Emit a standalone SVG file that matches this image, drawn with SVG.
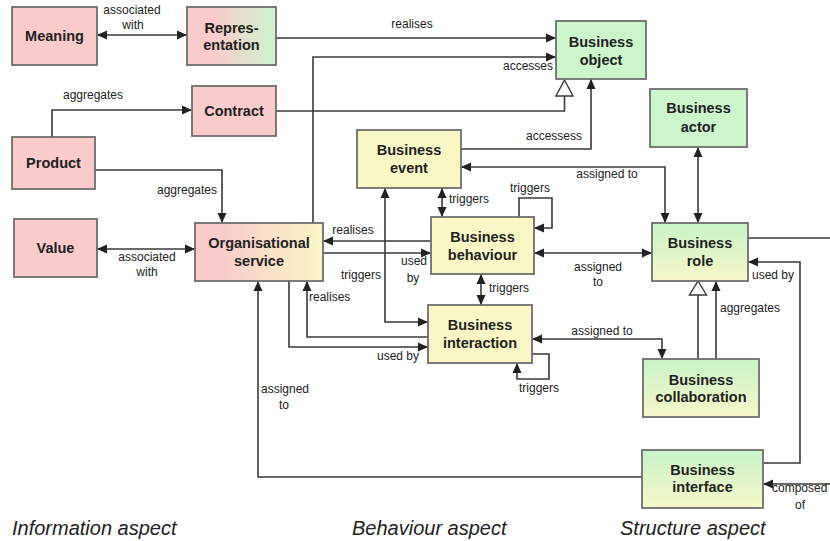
<svg xmlns="http://www.w3.org/2000/svg" width="830" height="541" viewBox="0 0 830 541">
<style>
.n rect{stroke:#6e6e6e;stroke-width:1.8}
.pink{fill:#f9cbcb}
.green{fill:#ccf5cc}
.yellow{fill:#f9f7c6}
.t{font-family:"Liberation Sans",Arial,sans-serif;font-weight:bold;font-size:14.5px;fill:#222;text-anchor:middle}
.l{font-family:"Liberation Sans",Arial,sans-serif;font-size:12px;fill:#222}
.m{text-anchor:middle}
.a{font-family:"Liberation Sans",Arial,sans-serif;font-style:italic;font-size:20px;fill:#222}
#connectors path{fill:none;stroke:#3a3a3a;stroke-width:1.6}
#connectors polygon{fill:#fff;stroke:#3a3a3a;stroke-width:1.4}
.e{marker-end:url(#arr)}
.b{marker-end:url(#arr);marker-start:url(#arr)}
</style>
<defs>
<marker id="arr" markerUnits="userSpaceOnUse" markerWidth="11" markerHeight="10" refX="10" refY="5" orient="auto-start-reverse" viewBox="0 0 11 10">
<path d="M0,0.5 L10,5 L0,9.5 z" fill="#222"/>
</marker>
<linearGradient id="gPG" x1="0" y1="0" x2="1" y2="0">
<stop offset="0.3" stop-color="#f9cbcb"/><stop offset="1" stop-color="#ccf5cc"/>
</linearGradient>
<linearGradient id="gPY" x1="0" y1="0" x2="1" y2="0">
<stop offset="0.2" stop-color="#f9cbcb"/><stop offset="1" stop-color="#f9f7c6"/>
</linearGradient>
<linearGradient id="gGY" x1="0" y1="0" x2="0" y2="1">
<stop offset="0" stop-color="#c9f3c9"/><stop offset="1" stop-color="#f6f7c8"/>
</linearGradient>
</defs>
<rect width="830" height="541" fill="#fff"/>

<g id="connectors">
<path class="b" d="M97,35 H187"/>
<path class="e" d="M276,38 H556"/>
<path class="e" d="M313,223 V57 H556"/>
<path d="M276,111 H564.5 V96"/>
<polygon points="556,96 573,96 564.5,80"/>
<path class="e" d="M461,149 H591 V79"/>
<path class="e" d="M52,137 V110 H192"/>
<path class="e" d="M95,170 H222 V223"/>
<path class="b" d="M97,249 H195"/>
<path class="b" d="M698,147 V223"/>
<path class="b" d="M461,167 H665 V223"/>
<path class="b" d="M442,188 V217"/>
<path class="e" d="M519,217 V198 H552 V228 H534"/>
<path class="e" d="M431,241 H323"/>
<path class="e" d="M323,253 H431"/>
<path class="b" d="M428,322 H385 V188"/>
<path class="b" d="M481,274 V305"/>
<path class="e" d="M428,337 H307 V281"/>
<path class="e" d="M289,281 V347 H428"/>
<path class="e" d="M532,354 H549 V379 H517 V363"/>
<path class="b" d="M534,253 H652"/>
<path class="b" d="M532,339 H662 V359"/>
<path d="M698,359 V295"/>
<polygon points="689.5,295 706.5,295 698,281"/>
<path class="e" d="M716,359 V281"/>
<path d="M748,238 H830"/>
<path class="e" d="M763,463 H800 V262 H748"/>
<path class="e" d="M830,484 H763"/>
<path class="e" d="M642,477 H258 V281"/>

<text class="l m" x="132" y="14">associated</text>
<text class="l m" x="133" y="29">with</text>
<text class="l m" x="412" y="28">realises</text>
<text class="l m" x="528" y="70">accesses</text>
<text class="l m" x="93" y="99">aggregates</text>
<text class="l m" x="187" y="194">aggregates</text>
<text class="l m" x="147" y="261">associated</text>
<text class="l m" x="147" y="276">with</text>
<text class="l m" x="554" y="140">accessess</text>
<text class="l m" x="607" y="178">assigned to</text>
<text class="l" x="449" y="203">triggers</text>
<text class="l m" x="530" y="192">triggers</text>
<text class="l m" x="353" y="234">realises</text>
<text class="l m" x="414" y="265">used</text>
<text class="l m" x="413" y="282">by</text>
<text class="l m" x="361" y="279">triggers</text>
<text class="l" x="489" y="292">triggers</text>
<text class="l" x="309" y="301">realises</text>
<text class="l m" x="398" y="360">used by</text>
<text class="l m" x="539" y="392">triggers</text>
<text class="l m" x="598" y="271">assigned</text>
<text class="l m" x="598" y="286">to</text>
<text class="l m" x="602" y="335">assigned to</text>
<text class="l" x="720" y="312">aggregates</text>
<text class="l" x="752" y="279">used by</text>
<text class="l" x="772" y="492">composed</text>
<text class="l m" x="800" y="509">of</text>
<text class="l" x="261" y="393">assigned</text>
<text class="l m" x="284" y="409">to</text>
</g>

<g id="meaning" class="n"><rect class="pink" x="12" y="7" width="85" height="58"/><text class="t" x="54.5" y="41">Meaning</text></g>
<g id="representation" class="n"><rect fill="url(#gPG)" x="187" y="7" width="89" height="58"/><text class="t" x="231.5" y="33">Repres-</text><text class="t" x="231.5" y="50">entation</text></g>
<g id="contract" class="n"><rect class="pink" x="192" y="86" width="84" height="50"/><text class="t" x="234" y="116">Contract</text></g>
<g id="product" class="n"><rect class="pink" x="12" y="137" width="83" height="52"/><text class="t" x="53.5" y="168">Product</text></g>
<g id="value" class="n"><rect class="pink" x="14" y="219" width="83" height="58"/><text class="t" x="55.5" y="253">Value</text></g>
<g id="org-service" class="n"><rect fill="url(#gPY)" x="195" y="223" width="128" height="58"/><text class="t" x="259" y="248">Organisational</text><text class="t" x="259" y="266">service</text></g>
<g id="business-object" class="n"><rect class="green" x="556" y="21" width="90" height="58"/><text class="t" x="601" y="47">Business</text><text class="t" x="601" y="65">object</text></g>
<g id="business-actor" class="n"><rect class="green" x="650" y="89" width="97" height="58"/><text class="t" x="698.5" y="113">Business</text><text class="t" x="698.5" y="132">actor</text></g>
<g id="business-event" class="n"><rect class="yellow" x="357" y="130" width="104" height="58"/><text class="t" x="409" y="155">Business</text><text class="t" x="409" y="173">event</text></g>
<g id="business-behaviour" class="n"><rect class="yellow" x="431" y="217" width="103" height="57"/><text class="t" x="482.5" y="242">Business</text><text class="t" x="482.5" y="260">behaviour</text></g>
<g id="business-interaction" class="n"><rect class="yellow" x="428" y="305" width="104" height="58"/><text class="t" x="480" y="330">Business</text><text class="t" x="480" y="348">interaction</text></g>
<g id="business-role" class="n"><rect fill="url(#gGY)" x="652" y="223" width="96" height="58"/><text class="t" x="700" y="248">Business</text><text class="t" x="700" y="266">role</text></g>
<g id="business-collaboration" class="n"><rect fill="url(#gGY)" x="643" y="359" width="116" height="58"/><text class="t" x="701" y="385">Business</text><text class="t" x="701" y="402">collaboration</text></g>
<g id="business-interface" class="n"><rect fill="url(#gGY)" x="642" y="450" width="121" height="58"/><text class="t" x="702.5" y="475">Business</text><text class="t" x="702.5" y="492">interface</text></g>

<text class="a" x="12" y="535">Information aspect</text>
<text class="a" x="352" y="535">Behaviour aspect</text>
<text class="a" x="620" y="535">Structure aspect</text>
</svg>
